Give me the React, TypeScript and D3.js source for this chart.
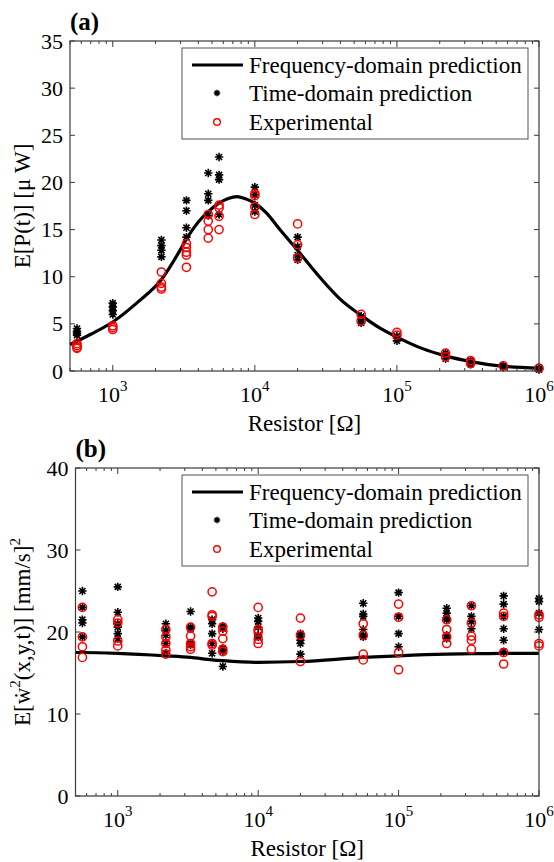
import React from "react";
import * as d3 from "d3";

// ---------- data ----------
const resistors = [560, 1000, 2200, 3300, 4700, 5600, 10000, 20000, 56000, 100000, 220000, 330000, 560000, 1000000];

// Panel (a): E[P(t)] [uW]
const timeA: number[][] = [
  [4.5, 4.2, 4.0, 3.8],
  [7.2, 6.8, 6.4, 6.0],
  [13.9, 13.3, 12.8, 12.1],
  [18.1, 17.0, 15.2, 14.2],
  [21.0, 18.8, 18.1, 16.5],
  [22.7, 20.8, 20.3, 16.6],
  [19.5, 18.7, 17.6, 16.9],
  [14.2, 13.2, 12.3, 11.8],
  [5.8, 5.5, 5.1],
  [3.7, 3.5, 3.2],
  [1.9, 1.6, 1.3],
  [1.1, 0.9, 0.7],
  [0.6, 0.5, 0.4],
  [0.3, 0.2, 0.15],
];
const expA: number[][] = [
  [2.9, 2.7, 2.5, 2.4],
  [4.8, 4.6, 4.4],
  [10.5, 9.3, 8.9, 8.7],
  [13.5, 13.1, 12.6, 12.3, 11.0],
  [16.6, 15.9, 15.0, 14.1],
  [17.6, 17.3, 16.4, 15.0],
  [18.8, 18.6, 17.4, 16.6],
  [15.6, 13.4, 12.0],
  [6.0, 5.3],
  [4.1, 3.8],
  [1.9, 1.5],
  [1.1, 0.8],
  [0.55],
  [0.3],
];
const freqAR = [500, 700, 1000, 1500, 2200, 3000, 3300, 4000, 4700, 5600, 6500, 7500, 8500, 10000, 12000, 15000, 20000, 25000, 30000, 40000, 56000, 75000, 100000, 150000, 220000, 330000, 560000, 1000000];
const freqAV = [2.8, 3.9, 5.2, 7.3, 9.7, 12.9, 14.0, 15.8, 16.9, 17.8, 18.3, 18.5, 18.3, 17.8, 16.8, 15.0, 12.8, 11.0, 9.6, 7.6, 5.9, 4.6, 3.6, 2.4, 1.6, 1.0, 0.5, 0.3];

// Panel (b): E[w'^2] [mm/s]^2
const timeB: number[][] = [
  [25.0, 23.0, 21.5, 21.1, 19.4],
  [25.5, 22.4, 21.0, 20.6, 19.8, 19.2],
  [21.0, 20.2, 19.6, 18.6, 17.4],
  [22.5, 20.6, 20.4, 18.6, 18.4],
  [21.5, 21.0, 19.8, 18.6, 17.4],
  [20.7, 20.4, 18.0, 17.6, 15.8],
  [21.7, 21.3, 20.6, 19.6, 19.4],
  [19.8, 19.4, 19.0, 18.6, 17.3],
  [23.5, 22.2, 21.9, 20.3, 19.6, 19.4],
  [24.8, 21.9, 19.8, 18.2],
  [22.9, 22.3, 21.7, 21.5, 19.6, 19.2],
  [23.2, 21.9, 21.3, 20.4],
  [24.4, 23.4, 21.9, 20.4, 19.0, 17.6],
  [24.1, 23.7, 22.3, 20.3],
];
const expB: number[][] = [
  [23.0, 19.4, 18.2, 16.9],
  [21.5, 21.1, 18.9, 18.3],
  [20.3, 19.4, 18.6, 17.8, 17.3],
  [20.6, 19.5, 18.6, 18.2, 17.9],
  [24.9, 22.1, 21.9, 18.6, 18.4],
  [20.6, 20.1, 19.2, 17.9, 17.6],
  [23.0, 20.3, 20.0, 19.1, 18.6],
  [21.7, 19.6, 16.4],
  [21.0, 19.6, 17.3, 16.6],
  [23.4, 21.8, 17.5, 15.4],
  [21.5, 20.3, 19.4, 18.6],
  [23.2, 21.1, 19.5, 19.0, 17.9],
  [22.3, 21.9, 17.5, 16.1],
  [22.1, 21.8, 18.6, 18.3],
];
const freqBR = [500, 560, 1000, 2200, 3300, 4700, 5600, 10000, 20000, 56000, 100000, 220000, 330000, 560000, 1000000];
const freqBV = [17.5, 17.5, 17.4, 17.1, 16.9, 16.6, 16.5, 16.3, 16.4, 16.9, 17.1, 17.3, 17.35, 17.4, 17.4];

const decadeTicks = [1000, 10000, 100000, 1000000];
const decadeExp = ["3", "4", "5", "6"];
const yTicksA = [0, 5, 10, 15, 20, 25, 30, 35];
const yTicksB = [0, 10, 20, 30, 40];
const legendLabels = ["Frequency-domain prediction", "Time-domain prediction", "Experimental"];

const FONT = "Liberation Serif, Times New Roman, Times, DejaVu Serif, serif";
const AXC = "#3a3a3a";

function starPath(cx: number, cy: number, s: number) {
  const k = s * 0.72;
  return `M${cx - s},${cy}H${cx + s}M${cx},${cy - s}V${cy + s}M${cx - k},${cy - k}L${cx + k},${cy + k}M${cx - k},${cy + k}L${cx + k},${cy - k}`;
}

type PanelProps = {
  left: number; right: number; top: number; bottom: number;
  yMax: number; yTicks: number[];
  times: number[][]; exps: number[][];
  curveR: number[]; curveV: number[];
  title: string; ylabel: React.ReactNode;
};

function Panel(p: PanelProps) {
  const x = d3.scaleLog().domain([500, 1000000]).range([p.left, p.right]);
  const y = d3.scaleLinear().domain([0, p.yMax]).range([p.bottom, p.top]);
  const minor: number[] = [];
  for (let e = 2; e <= 5; e++) {
    for (let m = 2; m <= 9; m++) {
      const v = m * Math.pow(10, e);
      if (v >= 500 && v < 1000000) minor.push(v);
    }
  }
  const line = d3.line<number>()
    .x((_, i) => x(p.curveR[i]))
    .y((v) => y(v))
    .curve(d3.curveMonotoneX);
  const legW = 346, legH = 91;
  const legX = p.right - 11 - legW, legY = p.top + 7;
  const rowY = [legY + 17, legY + 45, legY + 74];
  return (
    <g style={{ fontFamily: FONT }}>
      {/* data */}
      <path d={line(p.curveV) || ""} fill="none" stroke="#000" strokeWidth={3.2} />
      {p.times.map((col, i) =>
        col.map((v, j) => (
          <path key={`t${i}-${j}`} d={starPath(x(resistors[i]), y(v), 4.2)} stroke="#000" strokeWidth={1.6} fill="none" />
        ))
      )}
      {p.exps.map((col, i) =>
        col.map((v, j) => (
          <circle key={`e${i}-${j}`} cx={x(resistors[i])} cy={y(v)} r={4.1} fill="none" stroke="#ff0000" strokeWidth={1.5} />
        ))
      )}
      {/* frame */}
      <rect x={p.left} y={p.top} width={p.right - p.left} height={p.bottom - p.top} fill="none" stroke={AXC} strokeWidth={1.2} />
      {/* y ticks */}
      {p.yTicks.map((t) => (
        <g key={`yt${t}`}>
          <line x1={p.left} x2={p.left + 5} y1={y(t)} y2={y(t)} stroke={AXC} strokeWidth={1} />
          <line x1={p.right} x2={p.right - 5} y1={y(t)} y2={y(t)} stroke={AXC} strokeWidth={1} />
          <text x={p.left - 7} y={y(t) + 7.5} textAnchor="end" fontSize={22}>{t}</text>
        </g>
      ))}
      {/* x ticks */}
      {decadeTicks.map((t, i) => (
        <g key={`xt${t}`}>
          <line x1={x(t)} x2={x(t)} y1={p.bottom} y2={p.bottom - 6} stroke={AXC} strokeWidth={1} />
          <line x1={x(t)} x2={x(t)} y1={p.top} y2={p.top + 6} stroke={AXC} strokeWidth={1} />
          <text x={x(t)} y={p.bottom + 31} textAnchor="middle" fontSize={22}>
            10<tspan fontSize={15} dy={-11}>{decadeExp[i]}</tspan>
          </text>
        </g>
      ))}
      {minor.map((t) => (
        <g key={`mt${t}`}>
          <line x1={x(t)} x2={x(t)} y1={p.bottom} y2={p.bottom - 3} stroke={AXC} strokeWidth={1} />
          <line x1={x(t)} x2={x(t)} y1={p.top} y2={p.top + 3} stroke={AXC} strokeWidth={1} />
        </g>
      ))}
      {/* labels */}
      <text x={(p.left + p.right) / 2} y={p.bottom + 60} textAnchor="middle" fontSize={23}>Resistor [Ω]</text>
      <text x={p.left} y={p.top - 11} fontSize={25} fontWeight="bold">{p.title}</text>
      <text transform={`translate(30,${(p.top + p.bottom) / 2}) rotate(-90)`} textAnchor="middle" fontSize={23}>{p.ylabel}</text>
      {/* legend */}
      <rect x={legX} y={legY} width={legW} height={legH} fill="#fff" stroke="#555" strokeWidth={1} />
      <line x1={legX + 10} x2={legX + 61} y1={rowY[0]} y2={rowY[0]} stroke="#000" strokeWidth={3.2} />
      <path d={starPath(legX + 35, rowY[1], 3.2)} stroke="#000" strokeWidth={1.5} />
      <circle cx={legX + 35} cy={rowY[2]} r={3.3} fill="none" stroke="#ff0000" strokeWidth={1.4} />
      {legendLabels.map((l, i) => (
        <text key={l} x={legX + 67} y={rowY[i] + 8} fontSize={23}>{l}</text>
      ))}
    </g>
  );
}

export default function App() {
  return (
    <svg width={554} height={862} style={{ position: "absolute", left: 0, top: 0, background: "#fff" }}>
      <Panel left={70} right={539} top={41} bottom={371} yMax={35} yTicks={yTicksA}
        times={timeA} exps={expA} curveR={freqAR} curveV={freqAV}
        title="(a)" ylabel={<>E[P(t)] [μ W]</>} />
      <Panel left={75.5} right={539} top={468} bottom={796} yMax={40} yTicks={yTicksB}
        times={timeB} exps={expB} curveR={freqBR} curveV={freqBV}
        title="(b)" ylabel={<>E[ẇ<tspan fontSize={15} dy={-10}>2</tspan><tspan dy={10}>(x,y,t)] [mm/s]</tspan><tspan fontSize={15} dy={-10}>2</tspan></>} />
    </svg>
  );
}
